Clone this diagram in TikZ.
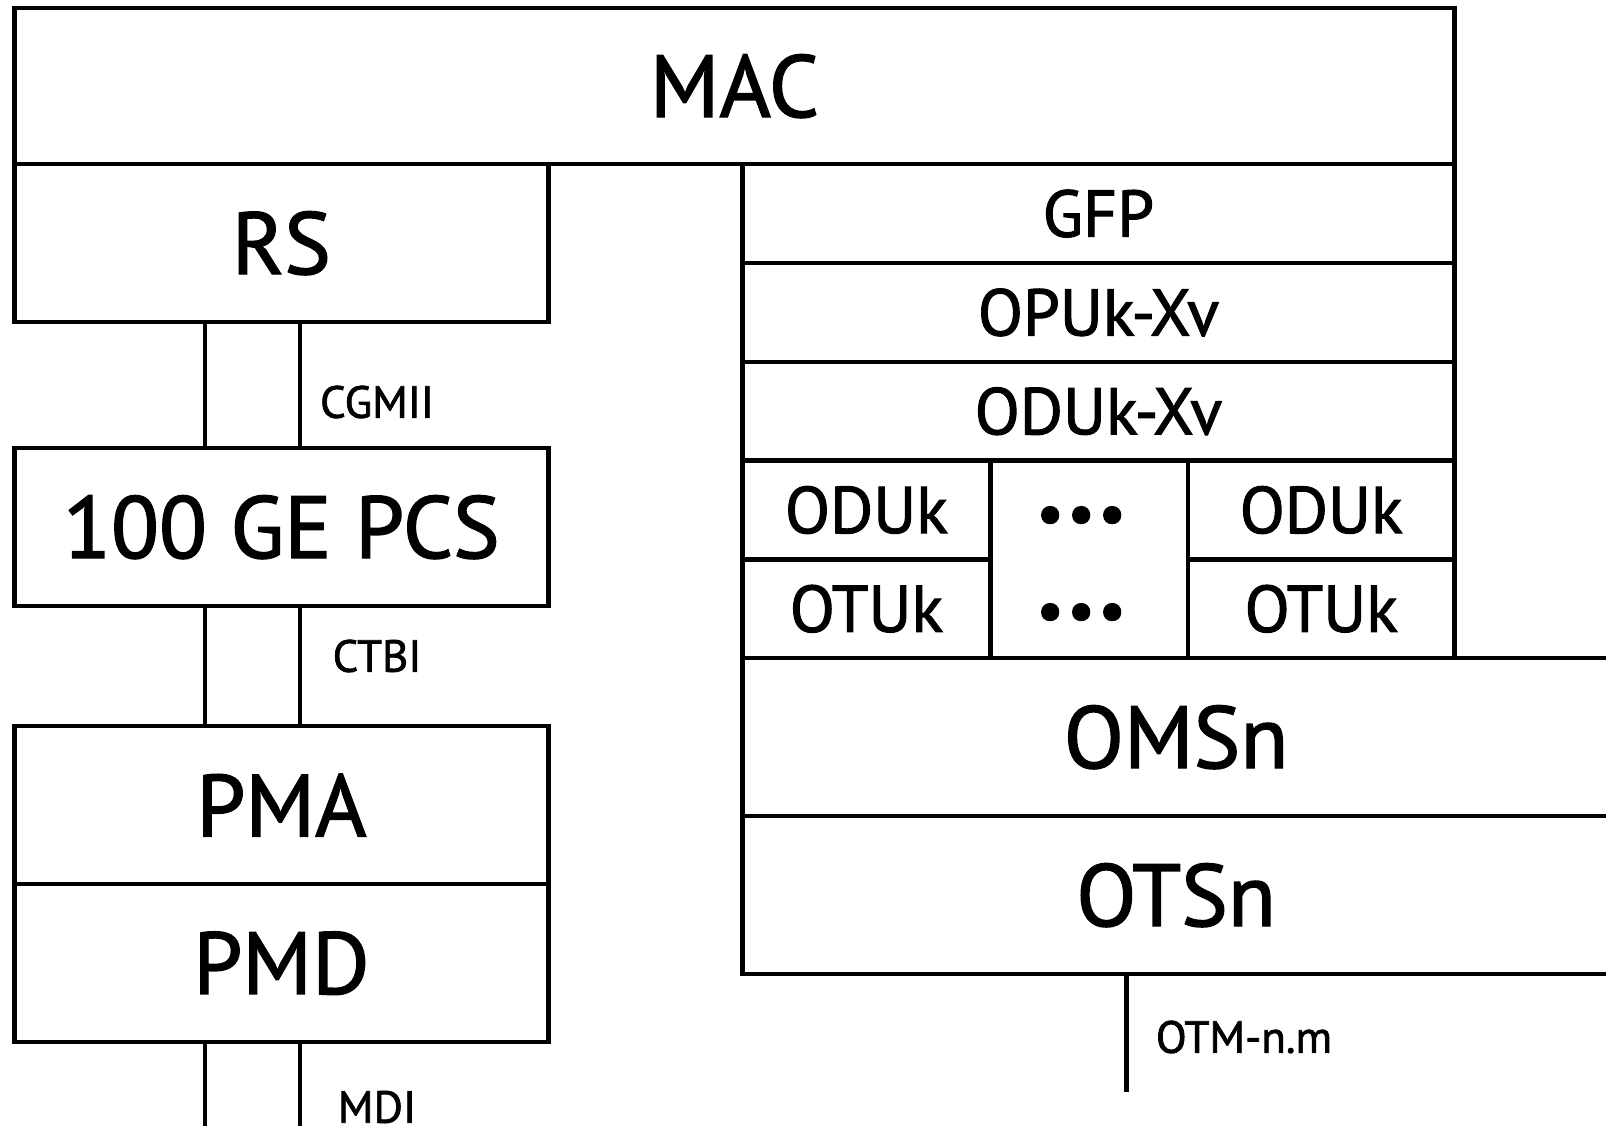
\documentclass[tikz,border=0pt]{standalone}
\usepackage{fontspec}
\setmainfont[FakeBold=1.6]{PT Sans}
\usetikzlibrary{positioning, calc}

\begin{document}
\begin{tikzpicture}[
    x=1pt, y=-1pt,
    line width=2.2pt,
    blk/.style 2 args={draw, line width=2.2pt, minimum width=#1pt, minimum height=#2pt,
        inner sep=0pt, outer sep=0pt, align=center},
    big/.style={font=\fontsize{44}{48}\selectfont},
    mid/.style={font=\fontsize{33}{36}\selectfont},
    tag/.style={font=\fontsize{22.5}{24}\selectfont, inner sep=0pt},
    dots/.style={font=\fontsize{31}{34}\selectfont, inner sep=0pt}
  ]
    \useasboundingbox (0,0) rectangle (803,562.5);
    \clip (0,0) rectangle (803,562.5);
    % left stack
    \node[blk={720}{78}, big, anchor=north west] (mac) at (7.2,4.1) {MAC};
    \node[blk={267}{79}, big, below right=0pt of mac.south west] (rs) {RS};
    \node[blk={267}{79}, big, below right=63pt and 0pt of rs.south west] (pcs) {100 GE PCS};
    \node[blk={267}{79}, big, below right=60pt and 0pt of pcs.south west] (pma) {PMA};
    \node[blk={267}{79}, big, below=0pt of pma] (pmd) {PMD};
    \coordinate[below right=45pt and 0pt of pmd.south west] (mdiend);
    % interfaces
    \foreach \dx in {95.2, 142.8} {
        \draw ([xshift=\dx pt]rs.south west) -- ([xshift=\dx pt]pcs.north west);
        \draw ([xshift=\dx pt]pcs.south west) -- ([xshift=\dx pt]pma.north west);
        \draw ([xshift=\dx pt]pmd.south west) -- ([xshift=\dx pt]mdiend);
    }
    \node[tag] (cgmii) at (188.5,201) {CGMII};
    \node[tag] (ctbi) at (188.5,328) {CTBI};
    \node[tag] (mdi) at (188.5,553.5) {MDI};
    % right stack
    \node[blk={356}{49.4}, mid, below left=0pt of mac.south east] (gfp) {GFP};
    \node[blk={356}{49.4}, mid, below=0pt of gfp] (opu) {OPUk-Xv};
    \node[blk={356}{49.4}, mid, below=0pt of opu] (oduxv) {ODUk-Xv};
    \node[blk={124}{49.4}, mid, below right=0pt of oduxv.south west] (oduL) {ODUk};
    \node[blk={124}{49.4}, mid, below=0pt of oduL] (otuL) {OTUk};
    \node[blk={133.2}{49.4}, mid, below left=0pt of oduxv.south east] (oduR) {ODUk};
    \node[blk={133.2}{49.4}, mid, below=0pt of oduR] (otuR) {OTUk};
    \node[blk={98.8}{98.8}, below right=0pt and 124pt of oduxv.south west] (gap) {};
    \node[dots] (dotsA) at ($(gap.center)+(-4,-19.5)$) {\textbullet\hspace{1.5pt}\textbullet\hspace{1.5pt}\textbullet};
    \node[dots] (dotsB) at ($(gap.center)+(-4,29)$) {\textbullet\hspace{1.5pt}\textbullet\hspace{1.5pt}\textbullet};
    \node[blk={433.7}{79}, big, below right=0pt of otuL.south west] (oms) {OMSn};
    \node[blk={433.7}{79}, big, below=0pt of oms] (ots) {OTSn};
    \coordinate[below right=59pt and 192pt of ots.south west] (otmend);
    \draw (otmend |- ots.south) -- (otmend);
    \node[tag] (otm) at (622,518.5) {OTM-n.m};
\end{tikzpicture}
\end{document}
